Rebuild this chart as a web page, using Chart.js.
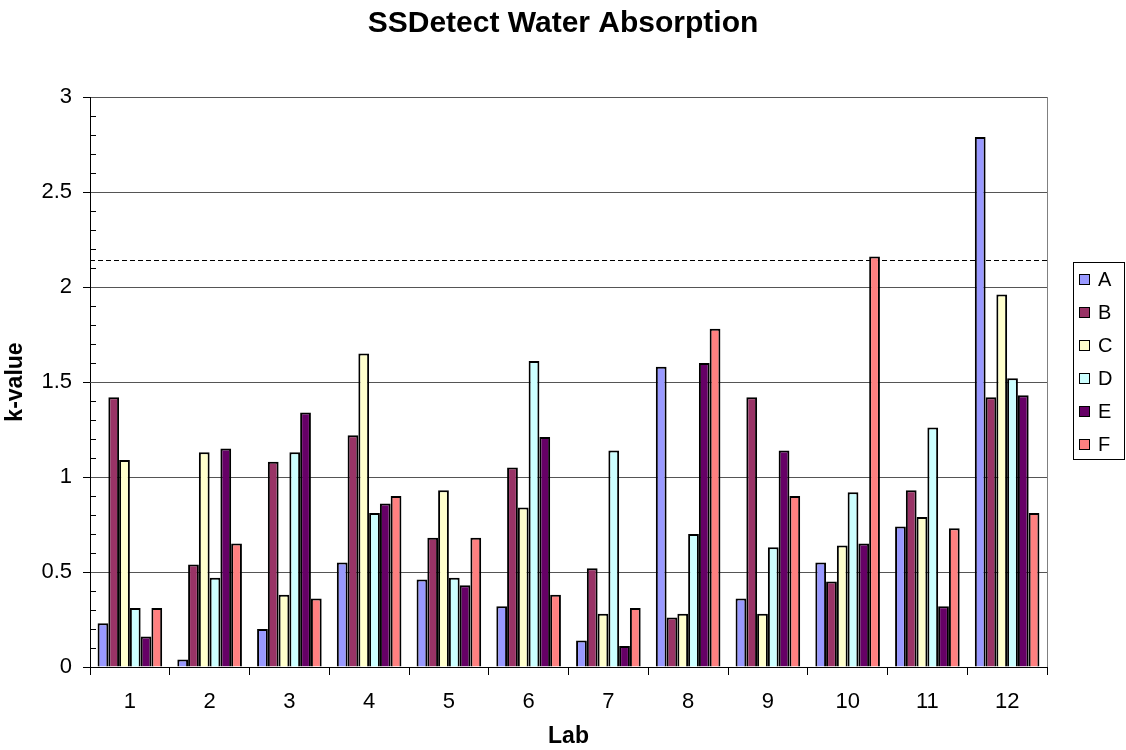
<!DOCTYPE html>
<html lang="en">
<head>
<meta charset="UTF-8">
<title>SSDetect Water Absorption</title>
<script src="https://cdn.jsdelivr.net/npm/chart.js"></script>
<style>
  body { margin: 0; background: #fff; }
  #wrap { width: 1126px; height: 750px; }
</style>
</head>
<body>
<div id="wrap"><canvas id="kChart"></canvas></div>
<script>
// k-values per lab, one array per material
const labs = ['1', '2', '3', '4', '5', '6', '7', '8', '9', '10', '11', '12'];
const seriesA = [0.23, 0.04, 0.20, 0.55, 0.46, 0.32, 0.14, 1.58, 0.36, 0.55, 0.74, 2.79];
const seriesB = [1.42, 0.54, 1.08, 1.22, 0.68, 1.05, 0.52, 0.26, 1.42, 0.45, 0.93, 1.42];
const seriesC = [1.09, 1.13, 0.38, 1.65, 0.93, 0.84, 0.28, 0.28, 0.28, 0.64, 0.79, 1.96];
const seriesD = [0.31, 0.47, 1.13, 0.81, 0.47, 1.61, 1.14, 0.70, 0.63, 0.92, 1.26, 1.52];
const seriesE = [0.16, 1.15, 1.34, 0.86, 0.43, 1.21, 0.11, 1.60, 1.14, 0.65, 0.32, 1.43];
const seriesF = [0.31, 0.65, 0.36, 0.90, 0.68, 0.38, 0.31, 1.78, 0.90, 2.16, 0.73, 0.81];
const seriesNames = ['A', 'B', 'C', 'D', 'E', 'F'];
const seriesColors = ['#9999FF', '#993366', '#FFFFCC', '#CCFFFF', '#660066', '#FF8080'];
const kCritical = 2.14;   // dashed limit line
const minorStep = 0.1;

Chart.defaults.font.family = "'Liberation Sans', Arial, sans-serif";
Chart.defaults.color = '#000';

// dashed critical-k line (behind the bars)
const limitLine = {
    id: 'limitLine',
    beforeDatasetsDraw(chart) {
        const { ctx, chartArea } = chart;
        const y = Math.round(chart.scales.y.getPixelForValue(kCritical)) + 0.5;
        ctx.save();
        ctx.strokeStyle = '#000';
        ctx.lineWidth = 1;
        ctx.setLineDash([5, 3]);
        ctx.beginPath();
        ctx.moveTo(chartArea.left, y);
        ctx.lineTo(chartArea.right, y);
        ctx.stroke();
        ctx.restore();
    }
};

// minor ticks inside the plot + grey right border
const axisExtras = {
    id: 'axisExtras',
    beforeDatasetsDraw(chart) {
        const { ctx, chartArea } = chart;
        const yScale = chart.scales.y;
        ctx.save();
        ctx.strokeStyle = '#000';
        ctx.lineWidth = 1;
        const n = Math.round((yScale.max - yScale.min) / minorStep);
        for (let i = 1; i < n; i++) {
            if (i % 5 === 0) continue;
            const y = Math.round(yScale.getPixelForValue(yScale.min + i * minorStep)) + 0.5;
            ctx.beginPath();
            ctx.moveTo(chartArea.left, y);
            ctx.lineTo(chartArea.left + 6, y);
            ctx.stroke();
        }
        ctx.strokeStyle = '#808080';
        const xr = Math.round(chartArea.right) + 0.5;
        ctx.beginPath();
        ctx.moveTo(xr, chartArea.top);
        ctx.lineTo(xr, chartArea.bottom);
        ctx.stroke();
        ctx.restore();
    }
};

// boxed legend on the right, like the original
const boxLegend = {
    id: 'boxLegend',
    afterDraw(chart) {
        const { ctx } = chart;
        const box = { x: 1073, y: 262, w: 51, h: 197 };
        const firstY = 279, step = 33;
        ctx.save();
        ctx.strokeStyle = '#000';
        ctx.lineWidth = 1;
        ctx.strokeRect(box.x + 0.5, box.y + 0.5, box.w, box.h);
        ctx.font = "20px 'Liberation Sans', Arial, sans-serif";
        ctx.textBaseline = 'middle';
        ctx.textAlign = 'left';
        chart.data.datasets.forEach((ds, i) => {
            const cy = firstY + i * step;
            ctx.fillStyle = ds.backgroundColor;
            ctx.fillRect(box.x + 6, cy - 5, 10, 10);
            ctx.strokeRect(box.x + 6.5, cy - 4.5, 10, 10);
            ctx.fillStyle = '#000';
            ctx.fillText(ds.label, box.x + 25, cy + 1);
        });
        ctx.restore();
    }
};

const allSeries = [seriesA, seriesB, seriesC, seriesD, seriesE, seriesF];

new Chart(document.getElementById('kChart'), {
    type: 'bar',
    data: {
        labels: labs,
        datasets: allSeries.map((vals, i) => ({
            label: seriesNames[i],
            data: vals,
            backgroundColor: seriesColors[i],
            borderColor: '#000',
            borderWidth: 2,
            categoryPercentage: 0.81,
            barPercentage: 1.0
        }))
    },
    options: {
        responsive: true,
        maintainAspectRatio: false,
        animation: false,
        plugins: {
            legend: { display: false },
            tooltip: { enabled: false },
            title: {
                display: true,
                text: 'SSDetect Water Absorption',
                color: '#000',
                font: { size: 30, weight: 'bold' },
                padding: { top: 6, bottom: 55 }
            }
        },
        scales: {
            x: {
                grid: { offset: true, drawOnChartArea: false, tickLength: 8, color: '#000' },
                border: { color: '#000' },
                ticks: { padding: 14, font: { size: 22 }, color: '#000' },
                title: {
                    display: true, text: 'Lab', color: '#000',
                    font: { size: 23, weight: 'bold' },
                    padding: { top: 0, bottom: 0 }
                },
                afterFit(scale) { scale.height = 83; }
            },
            y: {
                min: 0,
                max: 3,
                ticks: {
                    stepSize: 0.5, padding: 11, font: { size: 22 }, color: '#000',
                    callback: v => String(+v.toFixed(2))
                },
                grid: { color: '#555', tickLength: 7, tickColor: '#000' },
                border: { color: '#000' },
                title: {
                    display: true, text: 'k-value', color: '#000',
                    font: { size: 23, weight: 'bold' },
                    padding: { top: 2, bottom: 0 }
                },
                afterFit(scale) { scale.width = 90; }
            },
            // empty right-hand space reserved for the legend
            legendSpace: {
                type: 'linear',
                position: 'right',
                ticks: { display: false },
                grid: { display: false },
                border: { display: false },
                afterFit(scale) { scale.width = 79; }
            }
        }
    },
    plugins: [limitLine, axisExtras, boxLegend]
});
</script>
</body>
</html>
